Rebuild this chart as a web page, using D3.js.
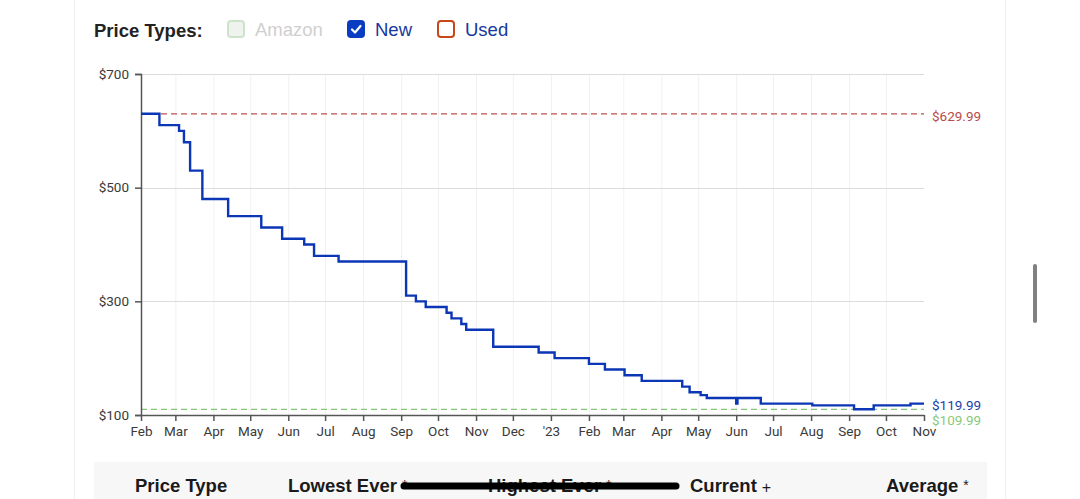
<!DOCTYPE html>
<html>
<head>
<meta charset="utf-8">
<script src="https://cdn.jsdelivr.net/npm/d3@7"></script>
<style>
  html, body { margin: 0; padding: 0; background: #fff; }
  svg { display: block; }
</style>
</head>
<body>
<svg id="chart" width="1080" height="499"></svg>
<script>
// ---------- data ----------
const stepDates = [
  "2022-02-01","2022-02-16","2022-03-04","2022-03-08","2022-03-13","2022-03-23",
  "2022-04-13","2022-05-10","2022-05-27","2022-06-14","2022-06-22","2022-07-12",
  "2022-09-05","2022-09-13","2022-09-21","2022-10-08","2022-10-12","2022-10-20",
  "2022-10-24","2022-11-15","2022-12-22","2023-01-04","2023-02-01","2023-02-14",
  "2023-03-02","2023-03-16","2023-04-18","2023-04-24","2023-05-03","2023-05-08",
  "2023-06-01","2023-06-02","2023-06-21","2023-08-02","2023-09-05","2023-09-21",
  "2023-10-21","2023-11-01"
];
const newPrices = [
  629.99,609.99,599.99,579.99,529.99,479.99,
  449.99,429.99,409.99,399.99,379.99,369.99,
  309.99,299.99,289.99,279.99,269.99,259.99,
  249.99,219.99,209.99,199.99,189.99,179.99,
  169.99,159.99,149.99,139.99,134.99,129.99,
  119.99,129.99,119.99,116.99,109.99,116.99,
  119.99,119.99
];
const highestEver = 629.99;
const lowestEver = 109.99;
const currentPrice = 119.99;
const yTicks = [100, 300, 500, 700];
const xTickDates = [
  "2022-02-01","2022-03-01","2022-04-01","2022-05-01","2022-06-01","2022-07-01",
  "2022-08-01","2022-09-01","2022-10-01","2022-11-01","2022-12-01","2023-01-01",
  "2023-02-01","2023-03-01","2023-04-01","2023-05-01","2023-06-01","2023-07-01",
  "2023-08-01","2023-09-01","2023-10-01","2023-11-01"
];
const xTickLabels = ["Feb","Mar","Apr","May","Jun","Jul","Aug","Sep","Oct","Nov","Dec","'23",
  "Feb","Mar","Apr","May","Jun","Jul","Aug","Sep","Oct","Nov"];
const legendItems = ["Amazon","New","Used"];
const tableHeaders = ["Price Type","Lowest Ever","Highest Ever","Current","Average"];
const tableMarks = ["","*","*","+","*"];

// ---------- setup ----------
const parse = d3.timeParse("%Y-%m-%d");
const series = stepDates.map((d, i) => ({ date: parse(d), price: newPrices[i] }));
const svg = d3.select("#chart");
const L = 141, R = 924, T = 74, B = 415;
const x = d3.scaleTime().domain([parse("2022-02-01"), parse("2023-11-01")]).range([L, R]);
const y = d3.scaleLinear().domain([100, 700]).range([B, T]);

// page frame
svg.append("rect").attr("width", 1080).attr("height", 499).attr("fill", "#fff");
svg.append("line").attr("x1", 74.5).attr("x2", 74.5).attr("y1", 0).attr("y2", 499).attr("stroke", "#eeeeee");
svg.append("line").attr("x1", 1005.5).attr("x2", 1005.5).attr("y1", 0).attr("y2", 499).attr("stroke", "#eeeeee");
svg.append("rect").attr("x", 1033).attr("y", 264).attr("width", 4).attr("height", 59).attr("rx", 2).attr("fill", "#808080");

// ---------- legend ----------
const sans = "'Liberation Sans', Arial, Helvetica, sans-serif";
svg.append("text").attr("x", 94).attr("y", 37).attr("font-family", sans).attr("font-weight", "bold")
  .attr("font-size", 18.5).attr("fill", "#222").text("Price Types:");
const legX = [227, 347, 437];
const boxStroke = ["#cfe3cc", "#0a3cc2", "#c7461a"];
const boxFill = ["#eef3ee", "#0a3cc2", "#fff"];
const labColor = ["#cfcfcf", "#17399e", "#17399e"];
legendItems.forEach((t, i) => {
  svg.append("rect").attr("x", legX[i] + 1).attr("y", 21).attr("width", 16).attr("height", 16).attr("rx", 3)
    .attr("fill", boxFill[i]).attr("stroke", boxStroke[i]).attr("stroke-width", 2);
  if (i === 1) {
    svg.append("path").attr("d", `M${legX[i]+5},29.5 L${legX[i]+8},32.5 L${legX[i]+13.5},26`)
      .attr("fill", "none").attr("stroke", "#fff").attr("stroke-width", 2.2).attr("stroke-linecap", "round").attr("stroke-linejoin", "round");
  }
  svg.append("text").attr("x", legX[i] + 28).attr("y", 36).attr("font-family", sans)
    .attr("font-size", 18.5).attr("fill", labColor[i]).text(t);
});

// ---------- grid ----------
const font = "Roboto, 'Noto Sans', sans-serif";
svg.append("g").selectAll("line").data(xTickDates.slice(1, -1)).join("line")
  .attr("x1", d => x(parse(d)) + 0.5).attr("x2", d => x(parse(d)) + 0.5)
  .attr("y1", T).attr("y2", B).attr("stroke", "#f1f1f1").attr("stroke-width", 1);
svg.append("g").selectAll("line").data(yTicks.filter(v => v > 100)).join("line")
  .attr("x1", L).attr("x2", R).attr("y1", d => Math.round(y(d)) + 0.5).attr("y2", d => Math.round(y(d)) + 0.5)
  .attr("stroke", "#dcdcdc").attr("stroke-width", 1.2);

// ---------- reference lines ----------
svg.append("line").attr("x1", L).attr("x2", R).attr("y1", y(highestEver)).attr("y2", y(highestEver))
  .attr("stroke", "#c0504d").attr("stroke-width", 1.2).attr("stroke-dasharray", "6,4");
svg.append("line").attr("x1", L).attr("x2", R).attr("y1", y(lowestEver)).attr("y2", y(lowestEver))
  .attr("stroke", "#86c678").attr("stroke-width", 1.2).attr("stroke-dasharray", "6,4");

// ---------- axes ----------
const yAxis = d3.axisLeft(y).tickValues(yTicks).tickFormat(d => "$" + d).tickSize(6).tickPadding(6);
const gy = svg.append("g").attr("transform", `translate(${L},0)`).call(yAxis);
gy.select(".domain").attr("stroke", "#555").attr("stroke-width", 1.5);
gy.selectAll(".tick line").attr("stroke", "#555").attr("stroke-width", 1.5);
gy.selectAll("text").attr("font-family", font).attr("font-size", 13.5).attr("fill", "#3a3a3a");

const xAxis = d3.axisBottom(x).tickValues(xTickDates.map(parse))
  .tickFormat((d, i) => xTickLabels[i]).tickSize(6).tickPadding(5).tickSizeOuter(0);
const gx = svg.append("g").attr("transform", `translate(0,${B})`).call(xAxis);
gx.select(".domain").attr("stroke", "#555").attr("stroke-width", 1.5);
gx.selectAll(".tick line").attr("stroke", "#555").attr("stroke-width", 1.5);
gx.selectAll("text").attr("font-family", font).attr("font-size", 13.5).attr("fill", "#3a3a3a");

// ---------- price line ----------
const line = d3.line().x(d => x(d.date)).y(d => y(d.price)).curve(d3.curveStepAfter);
svg.append("path").datum(series).attr("d", line).attr("fill", "none")
  .attr("stroke", "#0b36b5").attr("stroke-width", 2.4);

// ---------- right labels ----------
const labels = [
  { v: highestEver, dy: 3.5, c: "#b94a48" },
  { v: currentPrice, dy: 2.5, c: "#1c3ea8" },
  { v: lowestEver, dy: 12, c: "#8ac97a" }
];
labels.forEach(l => {
  svg.append("text").attr("x", 932).attr("y", y(l.v) + l.dy).attr("dominant-baseline", "middle")
    .attr("font-family", font).attr("font-size", 13.5).attr("fill", l.c).text("$" + l.v.toFixed(2));
});

// ---------- table header ----------
svg.append("rect").attr("x", 94).attr("y", 462).attr("width", 893).attr("height", 37).attr("fill", "#f7f7f7");
const thX = [135, 288, 488, 690, 886];
tableHeaders.forEach((t, i) => {
  const tx = svg.append("text").attr("x", thX[i]).attr("y", 492).attr("font-family", sans)
    .attr("font-weight", "bold").attr("font-size", 18.5).attr("fill", "#1a1a1a").text(t);
  if (tableMarks[i]) {
    const w = tx.node().getComputedTextLength();
    svg.append("text").attr("x", thX[i] + w + 5).attr("y", tableMarks[i] === "*" ? 490 : 493)
      .attr("font-family", sans).attr("font-size", tableMarks[i] === "*" ? 14 : 16).attr("fill", "#1a1a1a").text(tableMarks[i]);
  }
});
svg.append("line").attr("x1", 404).attr("x2", 676).attr("y1", 486).attr("y2", 486)
  .attr("stroke", "#000").attr("stroke-width", 7).attr("stroke-linecap", "round");
</script>
</body>
</html>
